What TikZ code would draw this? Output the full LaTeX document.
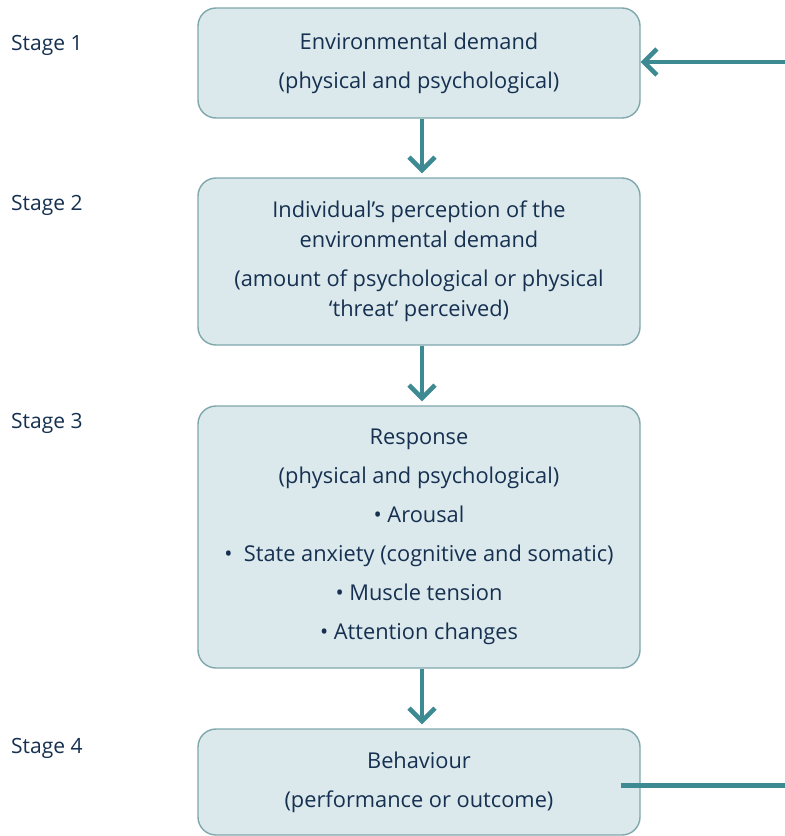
\documentclass[tikz,border=0pt]{standalone}
\usepackage{fontspec}
\setmainfont{Open Sans}
\usetikzlibrary{arrows.meta}
\definecolor{boxfill}{HTML}{DCE9EC}
\definecolor{boxedge}{HTML}{7FA7AC}
\definecolor{teal}{HTML}{3D8A92}
\definecolor{ink}{HTML}{153050}
\begin{document}
\begin{tikzpicture}[x=1pt,y=-1pt,
  stagebox/.style={draw=boxedge, line width=1.4pt, fill=boxfill, rounded corners=18pt,
    minimum width=442pt, align=center, text=ink, inner sep=0pt,
    font=\fontsize{21.8}{39}\selectfont},
  stagelabel/.style={anchor=west, text=ink, font=\fontsize{21}{24}\selectfont, inner sep=0pt},
  arr/.style={draw=teal, line width=4.5pt,
    -{Straight Barb[length=13pt,width=26pt,line width=4.5pt]}},
  plain/.style={draw=teal, line width=5pt}]
\useasboundingbox (0,0) rectangle (785,836);
\node[stagebox, minimum height=110pt] (b1) at (419,63)
  {Environmental demand\\(physical and psychological)};
\node[stagebox, minimum height=167pt] (b2) at (419,261.5)
  {Individual’s perception of the\\[-9pt]environmental demand\\(amount of psychological or physical\\[-9pt]‘threat’ perceived)};
\node[stagebox, minimum height=262pt] (b3) at (419,537)
  {Response\\(physical and psychological)\\• Arousal\\• \ State anxiety (cognitive and somatic)\\• Muscle tension\\• Attention changes};
\node[stagebox, minimum height=106pt] (b4) at (419,782)
  {Behaviour\\(performance or outcome)};
\node[stagelabel] (s1) at (11,45) {Stage 1};
\node[stagelabel] (s2) at (11,205) {Stage 2};
\node[stagelabel] (s3) at (11,423) {Stage 3};
\node[stagelabel] (s4) at (11,748) {Stage 4};
\draw[arr, shorten >=4pt] (b1.south -| 422,0) -- (b2.north -| 422,0);
\draw[arr, shorten >=4pt] (b2.south -| 422,0) -- (b3.north -| 422,0);
\draw[arr, shorten >=4pt] (b3.south -| 422,0) -- (b4.north -| 422,0);
\coordinate (r1) at (785,62);
\coordinate (r4) at (785,785);
\draw[arr] (r1) -- (b1.east |- r1);
\draw[plain] ([xshift=-20pt]b4.east |- r4) -- (r4);
\end{tikzpicture}
\end{document}
